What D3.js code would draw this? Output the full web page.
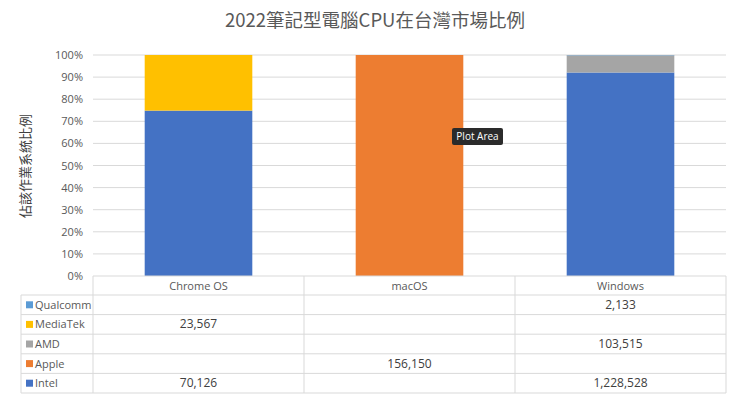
<!DOCTYPE html>
<html>
<head>
<meta charset="utf-8">
<script src="https://cdn.jsdelivr.net/npm/d3@7"></script>
<style>
  body { margin: 0; background: #fff; }
  svg { display: block; }
  .tick text { fill: #595959; font-size: 11px; font-family: "Open Sans", "Noto Sans", sans-serif; }
</style>
</head>
<body>
<div id="chart"></div>
<script>
const categories = ['Chrome OS', 'macOS', 'Windows'];
const seriesNames = ['Intel', 'Apple', 'AMD', 'MediaTek', 'Qualcomm'];
const intel = [70126, null, 1228528];
const apple = [null, 156150, null];
const amd = [null, null, 103515];
const mediatek = [23567, null, null];
const qualcomm = [null, null, 2133];
const colors = ['#4472C4', '#ED7D31', '#A5A5A5', '#FFC000', '#5B9BD5'];
const yTicks = [0, 0.1, 0.2, 0.3, 0.4, 0.5, 0.6, 0.7, 0.8, 0.9, 1];

const seriesValues = [intel, apple, amd, mediatek, qualcomm];
const rows = categories.map((c, i) => {
  const r = { cat: c };
  seriesNames.forEach((s, j) => r[s] = seriesValues[j][i] || 0);
  return r;
});

const W = 740, H = 398;
const margin = { top: 55, right: 14, bottom: 122, left: 93 };
const width = W - margin.left - margin.right;
const height = H - margin.top - margin.bottom;
const font = '"Open Sans", "Noto Sans", "Noto Sans CJK TC", sans-serif';

const svg = d3.select('#chart').append('svg')
  .attr('width', W).attr('height', H);

// title
svg.append('text')
  .attr('x', 375).attr('y', 27)
  .attr('text-anchor', 'middle')
  .style('font-family', '"Noto Sans CJK TC", "Open Sans", sans-serif')
  .style('font-size', '18.5px')
  .style('fill', '#595959')
  .text('2022筆記型電腦CPU在台灣市場比例');

const g = svg.append('g').attr('transform', `translate(${margin.left},${margin.top})`);

const x = d3.scaleBand().domain(categories).range([0, width]).paddingInner(0.49).paddingOuter(0.245);
const xCol = d3.scaleBand().domain(categories).range([0, width]);
const y = d3.scaleLinear().domain([0, 1]).range([height, 0]);

// gridlines
g.append('g')
  .selectAll('line').data(yTicks.slice(1)).enter().append('line')
  .attr('x1', 0).attr('x2', width)
  .attr('y1', d => y(d)).attr('y2', d => y(d))
  .attr('stroke', '#d9d9d9').attr('stroke-width', 1);

// y axis
const yAxis = g.append('g')
  .call(d3.axisLeft(y).tickValues(yTicks).tickFormat(d3.format('.0%')).tickSize(0).tickPadding(10));
yAxis.select('.domain').remove();
yAxis.selectAll('text').style('font-family', font);

// y label
svg.append('text')
  .attr('transform', 'translate(30,166) rotate(-90)')
  .attr('text-anchor', 'middle')
  .style('font-family', '"Noto Sans CJK TC", sans-serif')
  .style('font-size', '13px')
  .style('fill', '#404040')
  .text('佔該作業系統比例');

// stacked bars
const stack = d3.stack().keys(seriesNames).offset(d3.stackOffsetExpand);
const stacked = stack(rows);

g.selectAll('.layer').data(stacked).enter().append('g')
  .attr('class', 'layer')
  .attr('fill', (d, i) => colors[i])
  .selectAll('rect').data(d => d).enter().append('rect')
  .attr('x', d => x(d.data.cat))
  .attr('width', x.bandwidth())
  .attr('y', d => y(d[1]))
  .attr('height', d => Math.max(0, y(d[0]) - y(d[1])));

// data table
const tableTop = height;
const headerH = 19;
const rowH = 19.6;
const legendLeft = 21 - margin.left;
const tableRows = seriesNames.slice().reverse();
const tableColors = colors.slice().reverse();
const tableVals = seriesValues.slice().reverse();
const tableBottom = tableTop + headerH + rowH * tableRows.length;
const lineColor = '#d9d9d9';
const tfmt = d3.format(',');

const t = g.append('g');
// header top line (axis)
t.append('line').attr('x1', 0).attr('x2', width).attr('y1', tableTop).attr('y2', tableTop)
  .attr('stroke', lineColor);
// row lines
tableRows.forEach((s, i) => {
  const yy = tableTop + headerH + rowH * i;
  t.append('line').attr('x1', legendLeft).attr('x2', width).attr('y1', yy).attr('y2', yy)
    .attr('stroke', lineColor);
});
t.append('line').attr('x1', legendLeft).attr('x2', width).attr('y1', tableBottom).attr('y2', tableBottom)
  .attr('stroke', lineColor);
// vertical lines
t.append('line').attr('x1', legendLeft).attr('x2', legendLeft).attr('y1', tableTop + headerH).attr('y2', tableBottom)
  .attr('stroke', lineColor);
categories.concat(['__end']).forEach((c, i) => {
  const xx = i * xCol.bandwidth();
  t.append('line').attr('x1', xx).attr('x2', xx).attr('y1', tableTop).attr('y2', tableBottom)
    .attr('stroke', lineColor);
});
// header labels
t.selectAll('.hdr').data(categories).enter().append('text')
  .attr('x', d => xCol(d) + xCol.bandwidth() / 2)
  .attr('y', tableTop + headerH / 2 + 4)
  .attr('text-anchor', 'middle')
  .style('font-family', font).style('font-size', '11px').style('fill', '#595959')
  .text(d => d);
// legend + values
tableRows.forEach((s, i) => {
  const cy = tableTop + headerH + rowH * i + rowH / 2;
  t.append('rect').attr('x', legendLeft + 5).attr('y', cy - 3.5).attr('width', 7).attr('height', 7)
    .attr('fill', tableColors[i]);
  t.append('text').attr('x', legendLeft + 14).attr('y', cy + 4)
    .style('font-family', font).style('font-size', '11px').style('fill', '#595959')
    .text(s);
  categories.forEach((c, j) => {
    const v = tableVals[i][j];
    if (v == null) return;
    t.append('text')
      .attr('x', xCol(c) + xCol.bandwidth() / 2)
      .attr('y', cy + 4)
      .attr('text-anchor', 'middle')
      .style('font-family', font).style('font-size', '12px').style('fill', '#404040')
      .text(tfmt(v));
  });
});

// tooltip "Plot Area"
const tip = svg.append('g').attr('transform', 'translate(452,128)');
tip.append('rect').attr('width', 51).attr('height', 17).attr('rx', 2)
  .attr('fill', '#2b2b2b');
tip.append('text').attr('x', 25.5).attr('y', 12).attr('text-anchor', 'middle')
  .style('font-family', '"Open Sans", sans-serif').style('font-size', '10px').style('fill', '#fff')
  .text('Plot Area');
</script>
</body>
</html>
